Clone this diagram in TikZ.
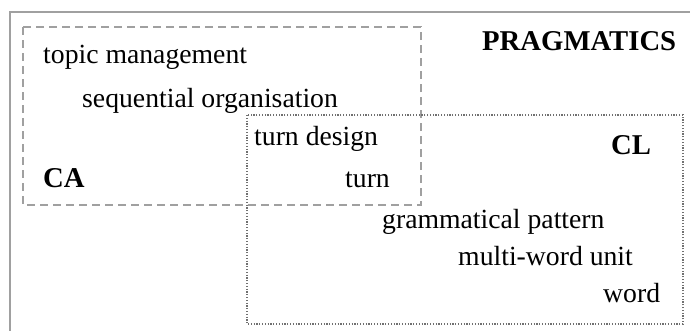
\documentclass[tikz,border=0pt]{standalone}
\usepackage{fontspec}
\setmainfont{Liberation Serif}
\usetikzlibrary{positioning}
\definecolor{framegrey}{HTML}{A0A0A0}
\definecolor{dotgrey}{HTML}{707070}
\tikzset{
    term/.style={anchor=base west, inner sep=0pt, font=\fontsize{27.7}{33}\selectfont},
    field/.style={term, font=\fontsize{28.7}{34}\selectfont\bfseries},
    caarea/.style={draw=framegrey, line width=1.5pt, dash pattern=on 8pt off 5pt},
    clarea/.style={draw=dotgrey, line width=1.2pt, dash pattern=on 1.2pt off 1.6pt}
}

\begin{document}
\begin{tikzpicture}[x=1pt, y=-1pt]
    \clip (0,0) rectangle (690,330);
    % outer frame and the two overlapping areas
    \draw [framegrey, line width=1.5pt] (10,12) rectangle (700,340);
    \draw [caarea] (23,27) rectangle (421,205);
    \draw [clarea] (247,115) rectangle (683,324);
    % labels
    \node (prag) [field] at (482,50) {PRAGMATICS};
    \node (ca) [field] at (43,187) {CA};
    \node (cl) [field] at (611,154) {CL};
    \node (topic) [term] at (43,63) {topic management};
    \node (seq) [term] at (82,107) {sequential organisation};
    \node (design) [term] at (254,145) {turn design};
    \node (turn) [term] at (345,187) {turn};
    \node (gram) [term] at (382,228) {grammatical pattern};
    \node (mwu) [term] at (458,265) {multi-word unit};
    \node (word) [term] at (603,302) {word};
\end{tikzpicture}
\end{document}
